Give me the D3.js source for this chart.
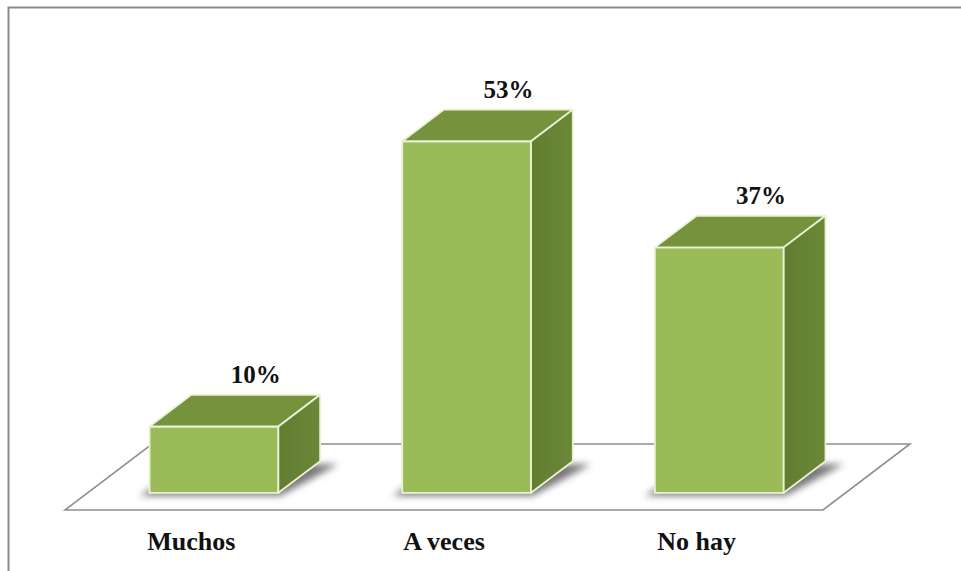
<!DOCTYPE html>
<html>
<head>
<meta charset="utf-8">
<script src="https://cdn.jsdelivr.net/npm/d3@7"></script>
<style>
  html, body { margin: 0; padding: 0; background: #ffffff; }
  svg { display: block; }
</style>
</head>
<body>
<div id="chart"></div>
<script>
// Chart data
const categories = ["Muchos", "A veces", "No hay"];
const values = [10, 53, 37];
const valueSuffix = "%";

const W = 961, H = 571;
const svg = d3.select("#chart").append("svg")
  .attr("width", W).attr("height", H);

const defs = svg.append("defs");
defs.append("filter").attr("id", "shadowBlur")
  .attr("x", "-30%").attr("y", "-60%").attr("width", "160%").attr("height", "220%")
  .append("feGaussianBlur").attr("stdDeviation", 3.5);

const sideGrad = defs.append("linearGradient").attr("id", "sideGrad")
  .attr("x1", "0").attr("y1", "0").attr("x2", "1").attr("y2", "0");
sideGrad.append("stop").attr("offset", "0").attr("stop-color", "#627d31");
sideGrad.append("stop").attr("offset", "1").attr("stop-color", "#6b8838");

// Outer frame
svg.append("rect")
  .attr("x", 8.5).attr("y", 7.5).attr("width", 1000).attr("height", 600)
  .attr("fill", "#ffffff").attr("stroke", "#8a8a8a").attr("stroke-width", 2);

// Oblique projection: floor depth and bar depth offsets
const floorDepth = { dx: 87, dy: -66 };
const frontInset = 0.26;   // bar front face sits this far into the floor depth
const barDepthFrac = 0.48; // bar depth as a share of the floor depth

const floorFrontY = 510;
const x = d3.scaleBand().domain(categories).range([65, 823]).padding(0);
const barBase = floorFrontY + floorDepth.dy * frontInset;
const y = d3.scaleLinear().domain([0, 60]).range([barBase, barBase - 398]);

const insetDx = floorDepth.dx * frontInset;
const bdx = floorDepth.dx * barDepthFrac, bdy = floorDepth.dy * barDepthFrac;
const barW = x.bandwidth() * 0.51;

// Floor plane
const [fx0, fx1] = x.range();
svg.append("path")
  .attr("d", d3.line()([
    [fx0, floorFrontY], [fx1, floorFrontY],
    [fx1 + floorDepth.dx, floorFrontY + floorDepth.dy],
    [fx0 + floorDepth.dx, floorFrontY + floorDepth.dy]
  ]) + "Z")
  .attr("fill", "#ffffff").attr("stroke", "#8f8f8f").attr("stroke-width", 1.6);

const bars = svg.append("g").selectAll("g").data(values).join("g");

const geom = (v, i) => {
  const cx = x(categories[i]) + x.bandwidth() / 2 + insetDx;
  const x0 = cx - barW / 2, x1 = cx + barW / 2;
  return { x0, x1, yb: y(0), yt: y(v) };
};

// Soft shadow on the floor
bars.append("path")
  .attr("d", (v, i) => {
    const g = geom(v, i);
    return d3.line()([
      [g.x0 - 10, g.yb + 3], [g.x1 + 2, g.yb + 3],
      [g.x1 + bdx + 18, g.yb + bdy + 3], [g.x0 + bdx, g.yb + bdy + 3]
    ]) + "Z";
  })
  .attr("fill", "#4a4a4a").attr("opacity", 0.75)
  .attr("filter", "url(#shadowBlur)");

const edge = "#eaf2d6";

// Front face
bars.append("path")
  .attr("d", (v, i) => {
    const g = geom(v, i);
    return d3.line()([[g.x0, g.yb], [g.x1, g.yb], [g.x1, g.yt], [g.x0, g.yt]]) + "Z";
  })
  .attr("fill", "#9bbb59").attr("stroke", edge).attr("stroke-width", 1.8)
  .attr("stroke-linejoin", "round");

// Top face
bars.append("path")
  .attr("d", (v, i) => {
    const g = geom(v, i);
    return d3.line()([
      [g.x0, g.yt], [g.x1, g.yt], [g.x1 + bdx, g.yt + bdy], [g.x0 + bdx, g.yt + bdy]
    ]) + "Z";
  })
  .attr("fill", "#76923c").attr("stroke", edge).attr("stroke-width", 1.8)
  .attr("stroke-linejoin", "round");

// Side face
bars.append("path")
  .attr("d", (v, i) => {
    const g = geom(v, i);
    return d3.line()([
      [g.x1, g.yb], [g.x1 + bdx, g.yb + bdy], [g.x1 + bdx, g.yt + bdy], [g.x1, g.yt]
    ]) + "Z";
  })
  .attr("fill", "url(#sideGrad)").attr("stroke", edge).attr("stroke-width", 1.8)
  .attr("stroke-linejoin", "round");

// Value labels above each bar
bars.append("text")
  .attr("x", (v, i) => geom(v, i).x0 + barW / 2 + bdx)
  .attr("y", (v, i) => geom(v, i).yt + bdy - 12)
  .attr("text-anchor", "middle")
  .attr("font-family", "'Liberation Serif', 'Times New Roman', serif")
  .attr("font-weight", "bold").attr("font-size", 25).attr("fill", "#111")
  .text(v => v + valueSuffix);

// Category axis along the front edge of the floor
const axis = d3.axisBottom(x).tickSize(0).tickPadding(0);
const axisG = svg.append("g").attr("transform", `translate(0,${floorFrontY})`).call(axis);
axisG.select(".domain").remove();
axisG.selectAll("text")
  .attr("y", 40).attr("dy", 0)
  .attr("font-family", "'Liberation Serif', 'Times New Roman', serif")
  .attr("font-weight", "bold").attr("font-size", 26).attr("fill", "#111");
</script>
</body>
</html>
